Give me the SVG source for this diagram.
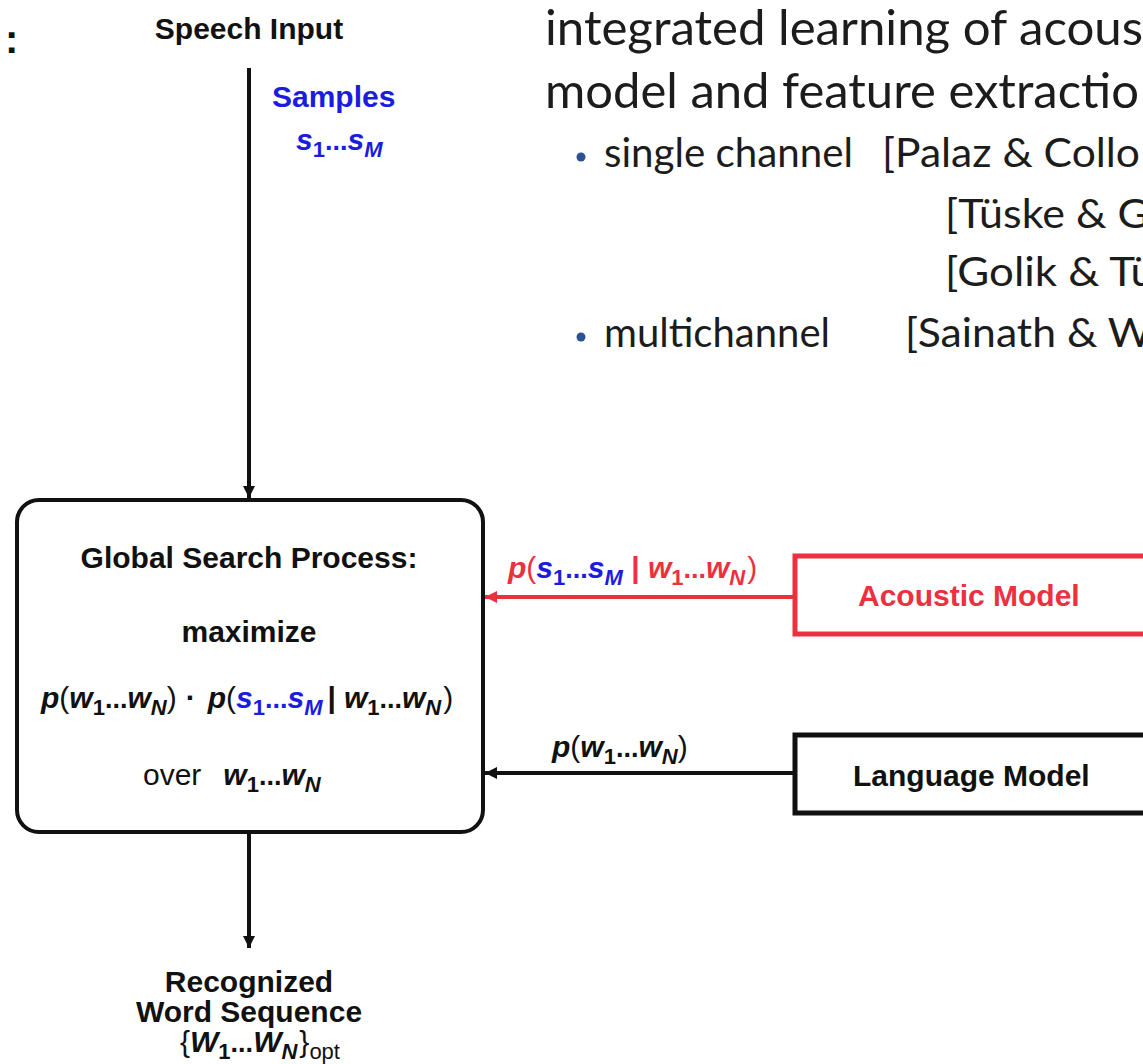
<svg xmlns="http://www.w3.org/2000/svg" width="1143" height="1064" viewBox="0 0 1143 1064">
  <style>
    text { font-family: "Liberation Sans", Arial, sans-serif; fill: #111; }
    .h { font-size: 30px; font-weight: bold; }
    .m { font-size: 30px; }
    .b { font-weight: bold; }
    .bi { font-weight: bold; font-style: italic; }
    .n { font-weight: normal; }
    .sub { font-size: 22px; }
    .dots { font-size: 27px; font-weight: bold; }
    .blue { fill: #1c1ce0; }
    .red { fill: #ec3040; }
    .notes text { font-family: Lato, "Open Sans", "DejaVu Sans", sans-serif; fill: #1c1c1c; }
    .notes .l1 { font-size: 48px; }
    .notes .l2 { font-size: 41px; }
    .bullet { fill: #2a5294; }
    .conn { stroke: #111; stroke-width: 4; fill: none; }
    .conn-red { stroke: #ec3040; stroke-width: 4; fill: none; }
  </style>
  <defs>
    <marker id="arr" viewBox="0 0 12 12" refX="12" refY="6" markerWidth="12" markerHeight="12" markerUnits="userSpaceOnUse" orient="auto">
      <path d="M0,0 L12,6 L0,12 z" fill="#111"/>
    </marker>
    <marker id="arr-red" viewBox="0 0 12 12" refX="12" refY="6" markerWidth="12" markerHeight="12" markerUnits="userSpaceOnUse" orient="auto">
      <path d="M0,0 L12,6 L0,12 z" fill="#ec3040"/>
    </marker>
  </defs>

  <rect width="1143" height="1064" fill="#fff"/>

  <!-- slide punctuation at top left -->
  <text x="5" y="53" style="font-size:40px;font-weight:bold">:</text>

  <!-- input label -->
  <g id="speech-input">
    <text class="h" x="249" y="39" text-anchor="middle">Speech Input</text>
  </g>

  <!-- connectors and their labels -->
  <g id="connectors">
    <line class="conn" x1="249" y1="68" x2="249" y2="498" marker-end="url(#arr)"/>
    <text class="h blue" x="272" y="107">Samples</text>
    <text class="m blue" x="296" y="150"><tspan class="bi blue">s</tspan><tspan class="sub b blue" dy="7">1</tspan><tspan class="dots blue" dy="-7">...</tspan><tspan class="bi blue">s</tspan><tspan class="sub bi blue" dy="7">M</tspan></text>

    <line class="conn-red" x1="795" y1="597" x2="485" y2="597" marker-end="url(#arr-red)"/>
    <text class="m" x="508" y="578"><tspan class="bi red">p</tspan><tspan class="n red">(</tspan><tspan class="bi blue">s</tspan><tspan class="sub b blue" dy="7">1</tspan><tspan class="dots blue" dy="-7">...</tspan><tspan class="bi blue">s</tspan><tspan class="sub bi blue" dy="7">M</tspan><tspan class="b red" dy="-7"> | </tspan><tspan class="bi red">w</tspan><tspan class="sub b red" dy="7">1</tspan><tspan class="dots red" dy="-7">...</tspan><tspan class="bi red">w</tspan><tspan class="sub bi red" dy="7">N</tspan><tspan class="n red" dy="-7" dx="2">)</tspan></text>

    <line class="conn" x1="795" y1="773" x2="485" y2="773" marker-end="url(#arr)"/>
    <text class="m" x="552" y="757"><tspan class="bi">p</tspan><tspan class="n">(</tspan><tspan class="bi">w</tspan><tspan class="sub b" dy="7">1</tspan><tspan class="dots" dy="-7">...</tspan><tspan class="bi">w</tspan><tspan class="sub bi" dy="7">N</tspan><tspan class="n" dy="-7">)</tspan></text>

    <line class="conn" x1="249" y1="834" x2="249" y2="948" marker-end="url(#arr)"/>
  </g>

  <!-- search node -->
  <g id="search">
    <rect x="17" y="500" width="466" height="332" rx="22" fill="#fff" stroke="#111" stroke-width="4"/>
    <text class="h" x="249" y="568" text-anchor="middle">Global Search Process:</text>
    <text class="h" x="249" y="642" text-anchor="middle">maximize</text>
    <text class="m" x="41" y="708"><tspan class="bi">p</tspan><tspan class="n">(</tspan><tspan class="bi">w</tspan><tspan class="sub b" dy="7">1</tspan><tspan class="dots" dy="-7">...</tspan><tspan class="bi">w</tspan><tspan class="sub bi" dy="7">N</tspan><tspan class="n" dy="-7">)</tspan><tspan class="b" dx="9">·</tspan><tspan class="bi" dx="12">p</tspan><tspan class="n">(</tspan><tspan class="bi blue">s</tspan><tspan class="sub b blue" dy="7">1</tspan><tspan class="dots blue" dy="-7">...</tspan><tspan class="bi blue">s</tspan><tspan class="sub bi blue" dy="7">M</tspan><tspan class="b" dy="-7" dx="5">|</tspan><tspan class="bi" dx="8">w</tspan><tspan class="sub b" dy="7">1</tspan><tspan class="dots" dy="-7">...</tspan><tspan class="bi">w</tspan><tspan class="sub bi" dy="7">N</tspan><tspan class="n" dy="-7" dx="2">)</tspan></text>
    <text class="m" x="143" y="785"><tspan class="n">over</tspan><tspan class="bi" dx="22">w</tspan><tspan class="sub b" dy="7">1</tspan><tspan class="dots" dy="-7">...</tspan><tspan class="bi">w</tspan><tspan class="sub bi" dy="7">N</tspan></text>
  </g>

  <!-- acoustic model node -->
  <g id="acoustic-model">
    <rect x="795" y="556" width="380" height="78" fill="#fff" stroke="#ec3040" stroke-width="5"/>
    <text class="h red" x="858" y="606">Acoustic Model</text>
  </g>

  <!-- language model node -->
  <g id="language-model">
    <rect x="795" y="735" width="380" height="78" fill="#fff" stroke="#111" stroke-width="5"/>
    <text class="h" x="853" y="786">Language Model</text>
  </g>

  <!-- output node -->
  <g id="output">
    <text class="h" x="249" y="992" text-anchor="middle">Recognized</text>
    <text class="h" x="249" y="1022" text-anchor="middle">Word Sequence</text>
    <text class="m" x="180" y="1052"><tspan class="n">{</tspan><tspan class="bi">W</tspan><tspan class="sub b" dy="7">1</tspan><tspan class="dots" dy="-7">...</tspan><tspan class="bi">W</tspan><tspan class="sub bi" dy="7">N</tspan><tspan class="n" dy="-7" dx="2">}</tspan><tspan class="n sub" dy="7">opt</tspan></text>
  </g>

  <!-- notes beside the diagram -->
  <g id="notes" class="notes">
    <text class="l1" x="545" y="45" textLength="598" lengthAdjust="spacingAndGlyphs">integrated learning of acous</text>
    <text class="l1" x="545" y="108" textLength="594" lengthAdjust="spacingAndGlyphs">model and feature extractio</text>
    <circle class="bullet" cx="581" cy="157" r="4.5"/>
    <text class="l2" x="604" y="167" textLength="249" lengthAdjust="spacingAndGlyphs">single channel</text>
    <text class="l2" x="882" y="167" textLength="258" lengthAdjust="spacingAndGlyphs">[Palaz &amp; Collo</text>
    <text class="l2" x="945" y="228" textLength="204" lengthAdjust="spacingAndGlyphs">[Tüske &amp; G</text>
    <text class="l2" x="945" y="286" textLength="210" lengthAdjust="spacingAndGlyphs">[Golik &amp; Tü</text>
    <circle class="bullet" cx="581" cy="337" r="4.5"/>
    <text class="l2" x="604" y="347" textLength="226" lengthAdjust="spacingAndGlyphs">multichannel</text>
    <text class="l2" x="905" y="347" textLength="247" lengthAdjust="spacingAndGlyphs">[Sainath &amp; W</text>
  </g>
</svg>
